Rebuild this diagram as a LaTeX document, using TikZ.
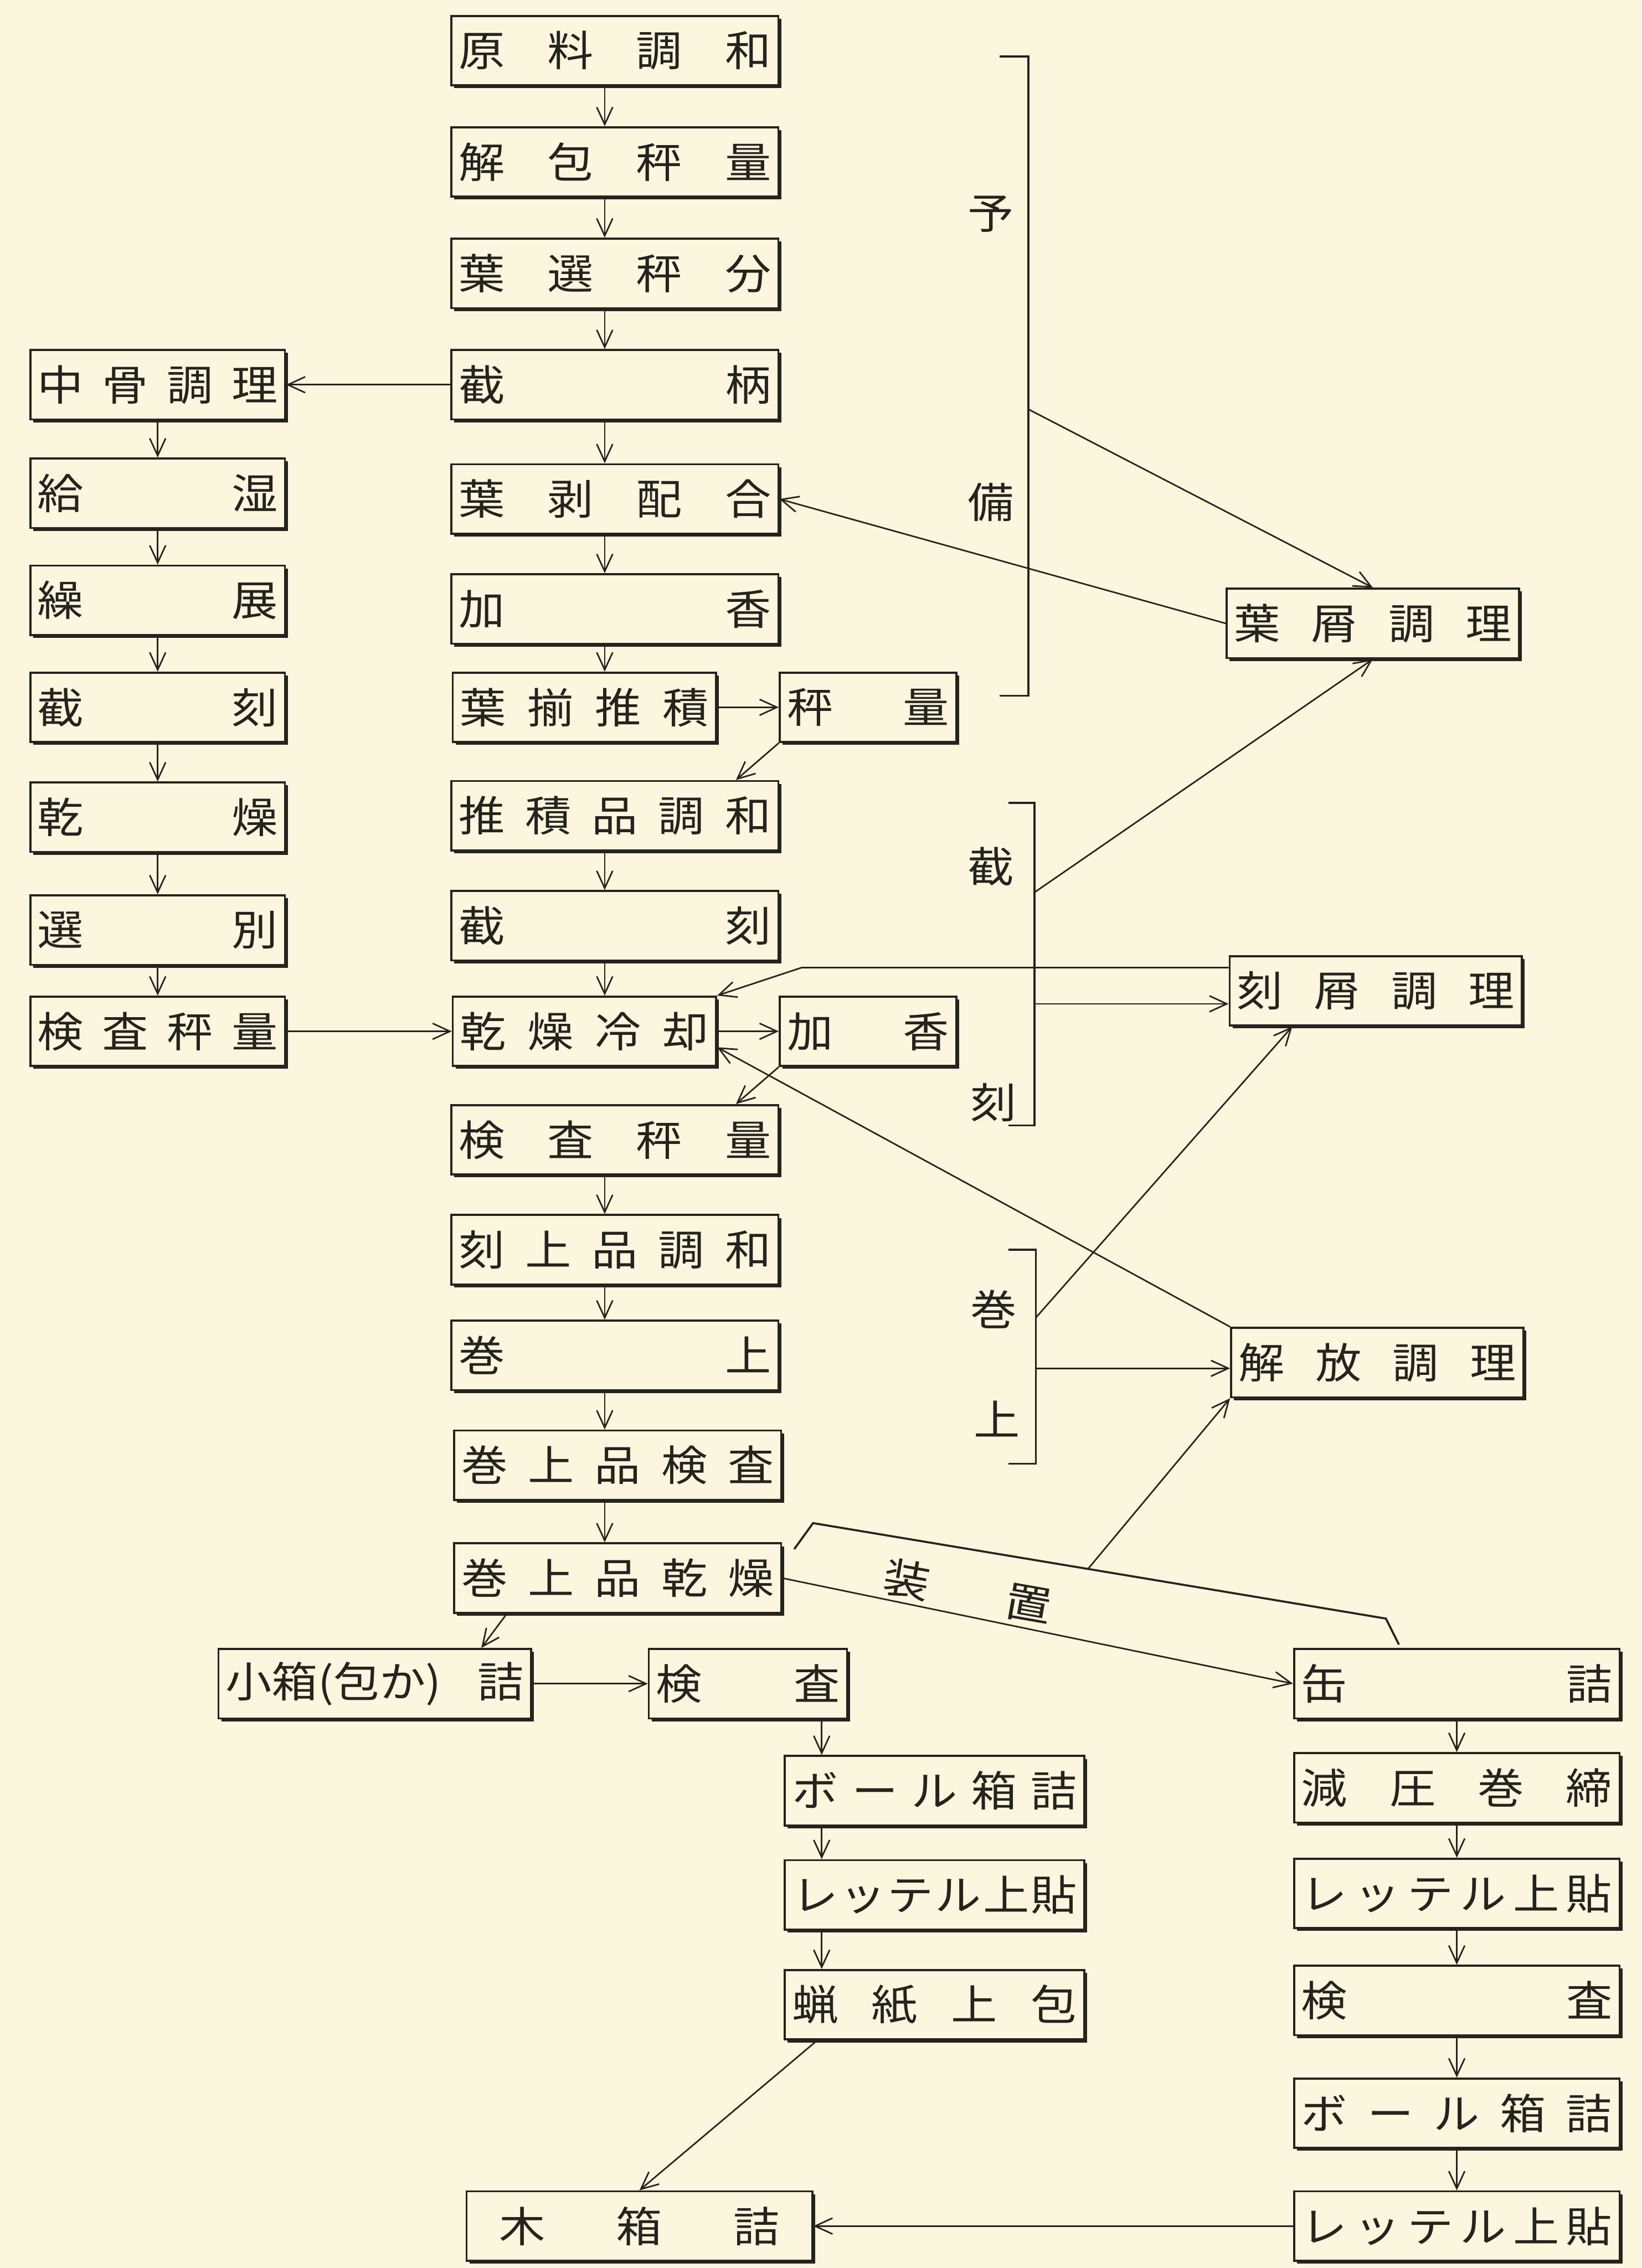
\documentclass[tikz,border=0pt]{standalone}
\usepackage{fontspec}
\newfontfamily\jpfont[FakeStretch=1.1]{Noto Sans CJK JP}
\usepackage{xcolor}
\definecolor{paper}{RGB}{251,246,222}
\definecolor{ink}{RGB}{38,34,30}
\usetikzlibrary{arrows.meta,calc,shadows}
\newcommand\jsp{\hskip 0pt plus 1filll\relax}

\begin{document}
\begin{tikzpicture}[
  x=0.2mm, y=-0.2mm,
  font=\jpfont\fontsize{16.5pt}{19pt}\selectfont,
  stage/.style={
    rectangle, draw=ink, fill=paper, text=ink,
    line width=0.8pt,
    minimum height=9.6mm,
    inner xsep=1mm, inner ysep=0pt,
    drop shadow={shadow xshift=0.4mm, shadow yshift=-0.4mm, fill=ink, opacity=1}
  },
  wd/.style={text width=#1, minimum width=#1+2mm},
  lbl/.style={inner sep=0pt, text=ink},
  arr/.style={-{Straight Barb[length=2.4mm, width=2.2mm]}, line width=0.6pt, color=ink},
  brk/.style={line width=0.8pt, color=ink}
]
\useasboundingbox (0,0) rectangle (1135,1568);
\fill[paper] (0,0) rectangle (1135,1568);

\node[stage, wd=43.2mm] (genryo) at (425,35) {原\jsp 料\jsp 調\jsp 和};
\node[stage, wd=43.2mm] (kaihou) at (425,112) {解\jsp 包\jsp 秤\jsp 量};
\node[stage, wd=43.2mm] (hasen) at (425,189) {葉\jsp 選\jsp 秤\jsp 分};
\node[stage, wd=43.2mm] (setsuhei) at (425,266) {截\jsp 柄};
\node[stage, wd=43.2mm] (hahaku) at (425,345) {葉\jsp 剥\jsp 配\jsp 合};
\node[stage, wd=43.2mm] (kakou1) at (425,421) {加\jsp 香};
\node[stage, wd=34.4mm] (hazoroe) at (404,489) {葉\jsp 揃\jsp 推\jsp 積};
\node[stage, wd=22.4mm] (hyoryo) at (600,489) {秤\jsp 量};
\node[stage, wd=43.2mm] (suiseki) at (425,564) {推\jsp 積\jsp 品\jsp 調\jsp 和};
\node[stage, wd=43.2mm] (saikoku) at (425,640) {截\jsp 刻};
\node[stage, wd=34.4mm] (kanrei) at (404,713) {乾\jsp 燥\jsp 冷\jsp 却};
\node[stage, wd=22.4mm] (kakou2) at (600,713) {加\jsp 香};
\node[stage, wd=43.2mm] (kensa) at (425,788) {検\jsp 査\jsp 秤\jsp 量};
\node[stage, wd=43.2mm] (kokujo) at (425,864) {刻\jsp 上\jsp 品\jsp 調\jsp 和};
\node[stage, wd=43.2mm] (makiage) at (425,937) {巻\jsp 上};
\node[stage, wd=43.2mm] (makiken) at (427,1013) {巻\jsp 上\jsp 品\jsp 検\jsp 査};
\node[stage, wd=43.2mm] (makikan) at (427,1091) {巻\jsp 上\jsp 品\jsp 乾\jsp 燥};

\node[stage, wd=33.2mm] (chukotsu) at (109,266) {中\jsp 骨\jsp 調\jsp 理};
\node[stage, wd=33.2mm] (kyushitsu) at (109,341) {給\jsp 湿};
\node[stage, wd=33.2mm] (soten) at (109,415) {繰\jsp 展};
\node[stage, wd=33.2mm] (lsaikoku) at (109,489) {截\jsp 刻};
\node[stage, wd=33.2mm] (lkanso) at (109,565) {乾\jsp 燥};
\node[stage, wd=33.2mm] (senbetsu) at (109,643) {選\jsp 別};
\node[stage, wd=33.2mm] (lkensa) at (109,713) {検\jsp 査\jsp 秤\jsp 量};

\node[stage, wd=38.4mm] (yokuzu) at (949,431) {葉\jsp 屑\jsp 調\jsp 理};
\node[stage, wd=38.4mm] (kokuzu) at (951,685) {刻\jsp 屑\jsp 調\jsp 理};
\node[stage, wd=38.4mm] (kaiho) at (952,942) {解\jsp 放\jsp 調\jsp 理};

\node[stage, wd=41.2mm] (kobako) at (259,1164) {小箱(包か)\jsp 詰};
\node[stage, wd=25.4mm] (kensa2) at (517,1164) {検\jsp 査};
\node[stage, wd=39.4mm] (boru1) at (646,1238) {ボ\jsp ー\jsp ル\jsp 箱\jsp 詰};
\node[stage, wd=39.4mm] (rettel1) at (646,1310) {レ\jsp ッ\jsp テ\jsp ル\jsp 上\jsp 貼};
\node[stage, wd=39.4mm] (rosi) at (646,1386) {蝋\jsp 紙\jsp 上\jsp 包};
\node[stage, wd=38.8mm, minimum width=47.8mm] (kibako) at (442,1539) {木\jsp 箱\jsp 詰};

\node[stage, wd=43mm] (kanzume) at (1007,1164) {缶\jsp 詰};
\node[stage, wd=43mm] (genatsu) at (1007,1236) {減\jsp 圧\jsp 巻\jsp 締};
\node[stage, wd=43mm] (rettel2) at (1007,1309) {レ\jsp ッ\jsp テ\jsp ル\jsp 上\jsp 貼};
\node[stage, wd=43mm] (kensa3) at (1007,1383) {検\jsp 査};
\node[stage, wd=43mm] (boru2) at (1007,1461) {ボ\jsp ー\jsp ル\jsp 箱\jsp 詰};
\node[stage, wd=43mm] (rettel3) at (1007,1539) {レ\jsp ッ\jsp テ\jsp ル\jsp 上\jsp 貼};

\node[lbl] (yo) at (685,148) {予};
\node[lbl] (bi) at (685,347) {備};
\node[lbl] (sai) at (685,599) {截};
\node[lbl] (koku) at (687,762) {刻};
\node[lbl] (maki) at (687,905) {巻};
\node[lbl] (jo) at (689,981) {上};
\node[lbl, rotate=-10] (sou) at (627,1092) {装};
\node[lbl, rotate=-10] (chi) at (711,1109) {置};

\coordinate (mx) at (418,0);
\coordinate (bx) at (568,0);
\foreach \a/\b in {genryo/kaihou,kaihou/hasen,hasen/setsuhei,setsuhei/hahaku,hahaku/kakou1,kakou1/hazoroe,
                   suiseki/saikoku,saikoku/kanrei,kensa/kokujo,kokujo/makiage,makiage/makiken,makiken/makikan} {
  \draw[arr] (\a.south -| mx) -- (\b.north -| mx);
}
\foreach \a/\b in {kensa2/boru1,boru1/rettel1,rettel1/rosi} {
  \draw[arr] (\a.south -| bx) -- (\b.north -| bx);
}
\foreach \a/\b in {chukotsu/kyushitsu,kyushitsu/soten,soten/lsaikoku,lsaikoku/lkanso,lkanso/senbetsu,senbetsu/lkensa,
                   kanzume/genatsu,genatsu/rettel2,rettel2/kensa3,kensa3/boru2,boru2/rettel3,
                   setsuhei/chukotsu,hazoroe/hyoryo,lkensa/kanrei,kanrei/kakou2,kobako/kensa2,rettel3/kibako} {
  \draw[arr] (\a) -- (\b);
}
\draw[arr] (hyoryo.south west) -- ($(suiseki.north east)+(-30,0)$);
\draw[arr] (kakou2.south west) -- ($(kensa.north east)+(-30,0)$);
\draw[arr] (yokuzu.west) -- (hahaku.east);
\draw[arr] (kaiho.north west) -- ($(kanrei.east)+(0,11)$);
\coordinate (kbend) at (554,669);
\draw[arr] (kokuzu.west |- kbend) -- (kbend) -- (kanrei.north east);
\draw[arr] ($(makikan.south west)+(37,0)$) -- ($(kobako.north east)+(-35,0)$);
\draw[arr] (makikan.east) -- (kanzume.west);
\draw[arr] ($(rosi.south west)+(23,0)$) -- (kibako.north);

% brackets
\coordinate (yout) at (711,283);
\draw[brk] (691,39) -- (711,39) -- (711,481) -- (691,481);
\draw[arr] (yout) -- (yokuzu.north);

\coordinate (sout1) at (715,617);
\coordinate (sout2) at (715,694);
\draw[brk] (697,555) -- (715,555) -- (715,778) -- (697,778);
\draw[arr] (sout1) -- (yokuzu.south);
\draw[arr] (sout2) -- (sout2 -| kokuzu.west);

\coordinate (mout1) at (716,911);
\coordinate (mout2) at (716,946);
\draw[brk] (697,864) -- (716,864) -- (716,1012) -- (697,1012);
\draw[arr] (mout1) -- ($(kokuzu.south west)+(44,0)$);
\draw[arr] (mout2) -- (mout2 -| kaiho.west);

\coordinate (so1) at (549,1071);
\coordinate (so2) at (562,1053);
\coordinate (so3) at (958,1119);
\coordinate (so4) at (967,1137);
\draw[brk] (so1) -- (so2) -- (so3) -- (so4);
\draw[arr] ($(so2)!0.48!(so3)$) -- (kaiho.south west);
\end{tikzpicture}
\end{document}
